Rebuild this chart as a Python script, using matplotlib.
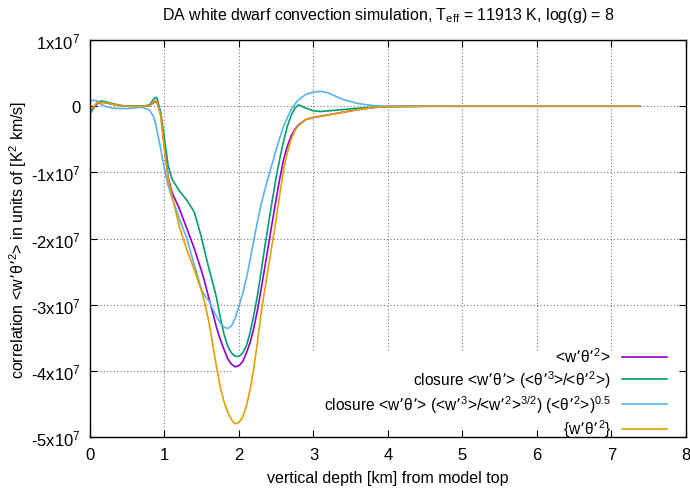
import matplotlib

matplotlib.use("Agg")
import matplotlib.pyplot as plt
import numpy as np

plt.rcParams["font.family"] = ["Liberation Sans", "DejaVu Sans"]
plt.rcParams["mathtext.default"] = "regular"

# vertical depth [km] (shared sample points), correlations in units of 1e7 K^2 km/s
DEPTH = [0.0, 0.05, 0.1, 0.15, 0.2, 0.3, 0.4, 0.5, 0.6, 0.7, 0.8, 0.85, 0.88, 0.9,
         0.95, 1.0, 1.05, 1.1, 1.2, 1.3, 1.4, 1.5,
         1.55, 1.6, 1.65, 1.7, 1.75, 1.8, 1.85, 1.9, 1.95, 2.0, 2.05, 2.1, 2.15,
         2.2, 2.25, 2.3, 2.35, 2.4, 2.45, 2.5, 2.55, 2.6, 2.65, 2.7, 2.75, 2.8,
         2.9, 3.0, 3.1, 3.2, 3.3, 3.4, 3.6, 3.8, 4.0, 4.5, 5.0, 6.0, 7.0, 7.38]

W_THETA2 = [-0.11, -0.02, 0.04, 0.06, 0.055, 0.03, 0.01, 0.0, 0.0, 0.0, 0.01, 0.05, 0.07, 0.06,
            -0.12, -0.62, -1.08, -1.3, -1.55, -1.85, -2.15, -2.5,
            -2.7, -2.92, -3.13, -3.35, -3.53, -3.68, -3.82, -3.9, -3.94, -3.92, -3.86, -3.73,
            -3.57, -3.35, -3.07, -2.75, -2.41, -2.07, -1.73, -1.4, -1.08, -0.8, -0.6, -0.45,
            -0.35, -0.28,
            -0.2, -0.17, -0.15, -0.13, -0.11, -0.09, -0.05, -0.02, -0.005, 0.0, 0.0, 0.0, 0.0, 0.0]

CLOSURE_THETA = [-0.11, -0.02, 0.06, 0.08, 0.07, 0.04, 0.015, 0.0, 0.0, 0.0, 0.02, 0.1, 0.135, 0.12,
                 -0.1, -0.5, -0.9, -1.1, -1.28, -1.42, -1.6, -2.0,
                 -2.24, -2.47, -2.68, -2.9, -3.2, -3.45, -3.63, -3.73, -3.78, -3.78, -3.73, -3.62,
                 -3.42, -3.15, -2.85, -2.48, -2.1, -1.75, -1.4, -1.07, -0.78, -0.52, -0.3, -0.14,
                 -0.03, 0.02,
                 -0.03, -0.07, -0.08, -0.07, -0.06, -0.05, -0.03, -0.015, -0.005, 0.0, 0.0, 0.0, 0.0, 0.0]

CLOSURE_W = [0.08, 0.09, 0.08, 0.03, 0.0, -0.03, -0.035, -0.035, -0.025, -0.015, -0.06, -0.15, -0.25, -0.37,
             -0.65, -0.95, -1.2, -1.38, -1.7, -2.0, -2.4, -2.78,
             -2.88, -2.95, -3.07, -3.18, -3.28, -3.34, -3.36, -3.32, -3.2, -3.02, -2.83, -2.6,
             -2.32, -2.02, -1.73, -1.47, -1.25, -1.05, -0.85, -0.65, -0.47, -0.3, -0.17, -0.05,
             0.03, 0.1,
             0.18, 0.215, 0.225, 0.2, 0.15, 0.1, 0.04, 0.01, 0.0, 0.0, 0.0, 0.0, 0.0, 0.0]

W_THETA2_BRACE = [-0.07, 0.0, 0.05, 0.06, 0.055, 0.03, 0.01, 0.0, 0.0, 0.0, 0.01, 0.06, 0.085, 0.07,
                  -0.15, -0.65, -1.1, -1.35, -1.82, -2.17, -2.47, -2.8,
                  -3.02, -3.28, -3.62, -3.95, -4.25, -4.47, -4.63, -4.74, -4.8, -4.78, -4.7, -4.53,
                  -4.28, -3.95, -3.55, -3.1, -2.75, -2.4, -2.05, -1.7, -1.32, -0.95, -0.7, -0.5,
                  -0.37, -0.29,
                  -0.2, -0.17, -0.15, -0.13, -0.11, -0.09, -0.05, -0.02, -0.005, 0.0, 0.0, 0.0, 0.0, 0.0]

SERIES = [
    ("<w’θ’$^2$>", W_THETA2, "#9400d3"),
    ("closure <w’θ’> (<θ’$^3$>/<θ’$^2$>)", CLOSURE_THETA, "#009e73"),
    ("closure <w’θ’> (<w’$^3$>/<w’$^2$>$^{3/2}$) (<θ’$^2$>)$^{0.5}$", CLOSURE_W, "#56b4e9"),
    ("{w’θ’$^2$}", W_THETA2_BRACE, "#e69f00"),
]

X_TICKS = [0, 1, 2, 3, 4, 5, 6, 7, 8]
Y_TICKS = [-5e7, -4e7, -3e7, -2e7, -1e7, 0, 1e7]
Y_TICK_LABELS = ["-5x10$^7$", "-4x10$^7$", "-3x10$^7$", "-2x10$^7$", "-1x10$^7$", "0", "1x10$^7$"]

# area left free of grid lines behind the key (data coords)
KEY_X0 = 1.92
KEY_YTOP = -3.68e7

fig = plt.figure(figsize=(6.9, 4.89), dpi=100)
ax = fig.add_axes([0.1304, 0.1043, 0.8638, 0.8117])

ax.set_xlim(0, 8)
ax.set_ylim(-5e7, 1e7)

# dotted grid, cut out where the key sits
grid_kw = dict(color="0.45", linestyle=(0, (1, 2)), linewidth=0.8, zorder=0.5)
key_frac = (KEY_YTOP - (-5e7)) / 6e7
for xv in X_TICKS[1:-1]:
    ax.axvline(xv, ymin=key_frac if xv > KEY_X0 else 0, ymax=1, **grid_kw)
for yv in Y_TICKS[1:-1]:
    ax.axhline(yv, xmin=0, xmax=KEY_X0 / 8 if yv < KEY_YTOP else 1, **grid_kw)

depth = np.array(DEPTH)
for label, vals, color in SERIES:
    ax.plot(depth, np.array(vals) * 1e7, color=color, lw=1.2, label=label)

ax.set_xticks(X_TICKS)
ax.set_yticks(Y_TICKS)
ax.set_yticklabels(Y_TICK_LABELS)
ax.tick_params(direction="in", length=5, width=0.8, top=True, right=True, labelsize=12)
ax.tick_params(axis="x", pad=7)
ax.tick_params(axis="y", pad=7)
for sp in ax.spines.values():
    sp.set_linewidth(1.0)

ax.set_xlabel("vertical depth [km] from model top", fontsize=11.5, labelpad=6)
ax.set_ylabel("correlation <w’θ’$^2$> in units of [K$^2$ km/s]", fontsize=11.5, labelpad=1)
ax.set_title("DA white dwarf convection simulation, T$_{eff}$ = 11913 K, log(g) = 8",
             fontsize=11.5, pad=15)

ax.legend(loc="lower right", bbox_to_anchor=(0.976, -0.018), markerfirst=False,
          alignment="right", frameon=False, fontsize=11.2, handlelength=2.9,
          handletextpad=0.7, labelspacing=0.2, borderpad=0.3, borderaxespad=0.0)

fig.savefig("out.png", dpi=100)
